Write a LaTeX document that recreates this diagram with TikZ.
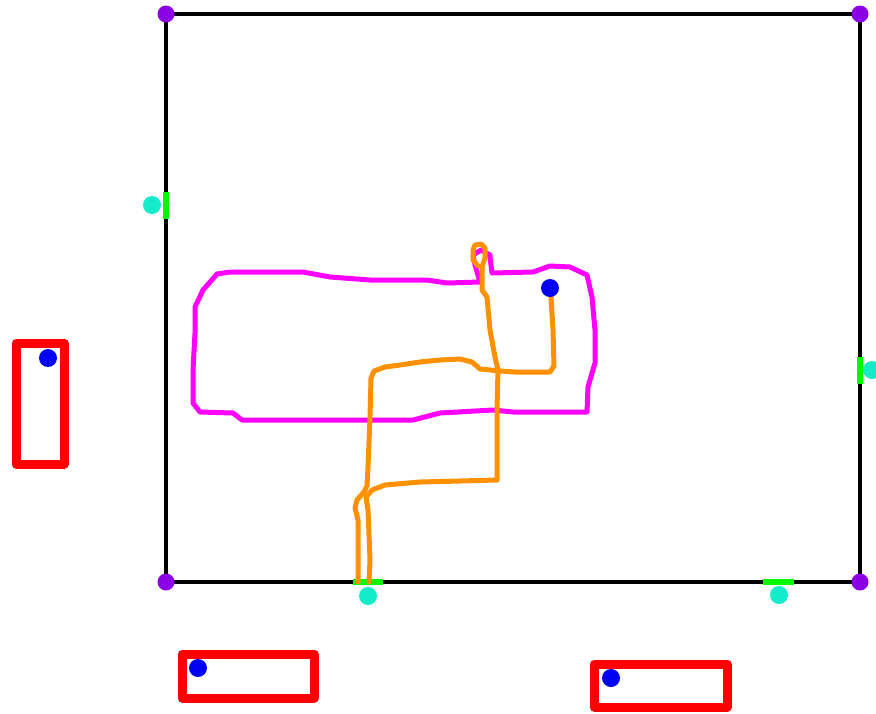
\documentclass[tikz,border=0pt]{standalone}
\usepackage{xcolor}
\usepackage{tikz}
\definecolor{wallc}{RGB}{0, 0, 0}
\definecolor{cornerc}{RGB}{140, 0, 230}
\definecolor{doorc}{RGB}{0, 250, 0}
\definecolor{markc}{RGB}{20, 235, 200}
\definecolor{furnc}{RGB}{255, 0, 0}
\definecolor{posc}{RGB}{0, 0, 245}
\definecolor{loopc}{RGB}{255, 0, 255}
\definecolor{routec}{RGB}{255, 145, 0}

\begin{document}
\begin{tikzpicture}[x=1pt,y=-1pt,line join=round,line cap=round]
\useasboundingbox (0,0) rectangle (876,713);
% room
\coordinate (NW) at (166,14);
\coordinate (NE) at (860,14);
\coordinate (SW) at (166,582);
\coordinate (SE) at (860,582);
\draw[wallc,line width=4pt,line cap=butt] (NW) -- (NE) -- (SE) -- (SW) -- cycle;
% doors
\draw[doorc,line width=6pt,line cap=butt] (166,192) -- (166,219);
\draw[doorc,line width=6pt,line cap=butt] (860,357) -- (860,384);
\draw[doorc,line width=6pt,line cap=butt] (353,582) -- (383,582);
\draw[doorc,line width=6pt,line cap=butt] (763,582) -- (794,582);
% furniture
\draw[furnc,line width=9pt] (16,343) rectangle (64,464);
\draw[furnc,line width=9pt] (182,654) rectangle (314,698);
\draw[furnc,line width=9pt] (594,664) rectangle (727,707);
% loop
\draw[loopc,line width=5pt] plot coordinates {(490,255) (490,257) (492,273) (533,272) (550,266) (570,267) (587,275)
  (592,297) (595,330) (595,363) (588,387) (587,412) (513,412) (493,410) (440,413) (413,420)
  (313,420) (242,420) (233,413) (200,412) (193,403) (193,370) (195,333) (195,307) (203,290)
  (217,274) (230,272) (303,272) (330,277) (370,280) (427,280) (447,283) (480,282) (475,265)
  (473,255) (481,250) (490,255)};
% routes
\draw[routec,line width=5pt] plot coordinates {(358,582) (358,520) (355,508) (357,500) (364,492) (367,486)
  (368,467) (370,417) (371,378) (374,371) (385,367) (400,365) (420,362) (440,360) (460,359)
  (472,362) (480,369) (500,371) (515,372) (550,372) (554,366) (553,330) (551,297) (550,288)};
\draw[routec,line width=5pt] plot coordinates {(369,582) (370,560) (368,510) (366,497) (372,490) (385,485)
  (420,482) (460,481) (497,480) (497,410) (498,370) (495,357) (490,330) (487,297) (482,290)
  (482,267) (485,258) (485,248) (481,244) (475,245) (473,250) (473,260) (478,266)};
% markers
\foreach \p in {NW,NE,SW,SE}
  \fill[cornerc] (\p) circle (8.5pt);
\foreach \p in {(152,205),(872,370),(368,596),(779,595)}
  \fill[markc] \p circle (9pt);
\foreach \p in {(48,358),(198,668),(611,678),(550,288)}
  \fill[posc] \p circle (9pt);
\end{tikzpicture}
\end{document}
